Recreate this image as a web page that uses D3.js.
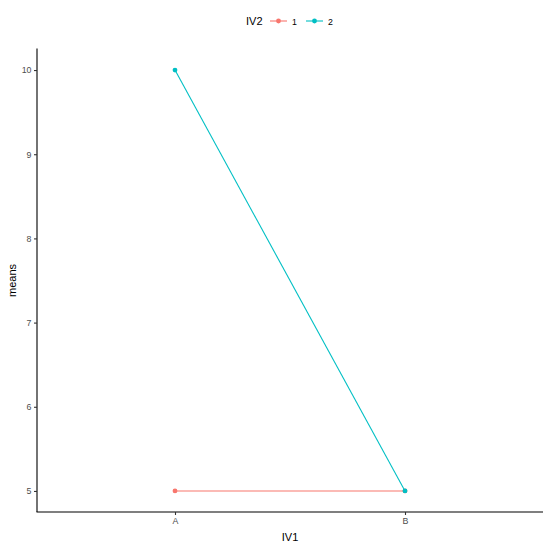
<!DOCTYPE html>
<html><head><meta charset="utf-8">
<script src="https://cdn.jsdelivr.net/npm/d3@7"></script>
<style>body{margin:0;background:#fff}svg{display:block}text{font-family:"Liberation Sans",Arial,Helvetica,sans-serif}</style>
</head><body><svg id="c" width="550" height="550"></svg>
<script>
const categories = ["A", "B"];
const seriesNames = ["1", "2"];
const series1 = [5, 5];
const series2 = [10, 5];
const yTicks = [5, 6, 7, 8, 9, 10];
const colors = ["#F8766D", "#00BFC4"];

(function () {
const svg = d3.select("#c");
const L = 37, R = 543, T = 49, B = 512;
const x = d3.scalePoint().domain(categories).range([L, R]).padding(0.6);
const y = d3.scaleLinear().domain([4.75, 10.25]).range([B, T]);

const data = [series1, series2];
const line = d3.line().x((d, i) => x(categories[i])).y(d => y(d));
data.forEach((s, k) => {
  svg.append("path").attr("d", line(s)).attr("fill", "none").attr("stroke", colors[k]).attr("stroke-width", 1.1);
  s.forEach((v, i) => svg.append("circle").attr("cx", x(categories[i])).attr("cy", y(v)).attr("r", 2.4).attr("fill", colors[k]));
});

const yAxis = svg.append("g").attr("transform", `translate(${L},0)`).call(d3.axisLeft(y).tickValues(yTicks).tickFormat(d3.format("d")).tickSize(3).tickPadding(2.5));
const xAxis = svg.append("g").attr("transform", `translate(0,${B})`).call(d3.axisBottom(x).tickSize(3).tickPadding(2.5));
[yAxis, xAxis].forEach(g => {
  g.attr("font-family", null).attr("font-size", null);
  g.select(".domain").attr("stroke", "#000").attr("stroke-width", 1.1);
  g.selectAll(".tick line").attr("stroke", "#333").attr("stroke-width", 1.1);
  g.selectAll(".tick text").attr("fill", "#4d4d4d").style("font-size", "8.8px");
});
yAxis.select(".domain").attr("d", `M0,${B}V${T - 0.5}`);
xAxis.select(".domain").attr("d", `M${L - 0.5},0H${R}`);

svg.append("text").attr("x", (L + R) / 2).attr("y", 541).attr("text-anchor", "middle").style("font-size", "11px").text("IV1");
svg.append("text").attr("transform", `translate(16,${(T + B) / 2}) rotate(-90)`).attr("text-anchor", "middle").style("font-size", "11px").text("means");

const lg = svg.append("g");
lg.append("text").attr("x", 246).attr("y", 25).style("font-size", "11px").text("IV2");
const keyX = [270, 306];
seriesNames.forEach((n, k) => {
  lg.append("line").attr("x1", keyX[k]).attr("x2", keyX[k] + 17).attr("y1", 21).attr("y2", 21).attr("stroke", colors[k]).attr("stroke-width", 1.1);
  lg.append("circle").attr("cx", keyX[k] + 8.5).attr("cy", 21).attr("r", 2.4).attr("fill", colors[k]);
  lg.append("text").attr("x", keyX[k] + 22).attr("y", 24.5).style("font-size", "8.8px").text(n);
});
})();
</script></body></html>
